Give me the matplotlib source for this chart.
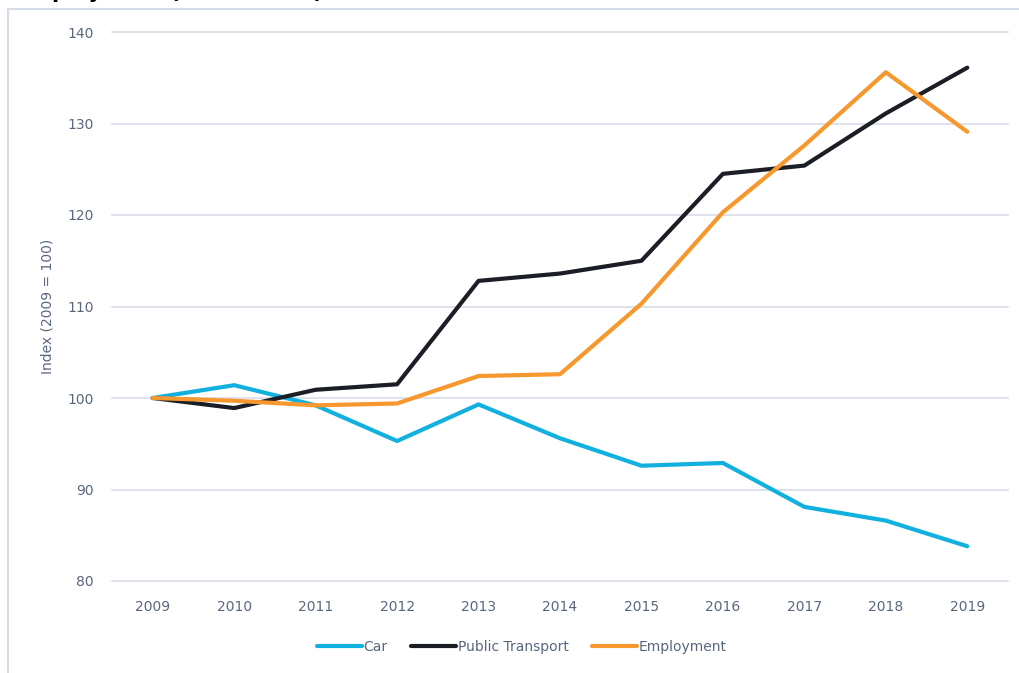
import matplotlib.pyplot as plt
from matplotlib.patches import Rectangle

# index values (2009 = 100)
years = [2009, 2010, 2011, 2012, 2013, 2014, 2015, 2016, 2017, 2018, 2019]
car = [100.0, 101.4, 99.2, 95.3, 99.3, 95.6, 92.6, 92.9, 88.1, 86.6, 83.8]
public_transport = [100.0, 98.9, 100.9, 101.5, 112.8, 113.6, 115.0, 124.5, 125.4, 131.1, 136.1]
employment = [100.0, 99.7, 99.2, 99.4, 102.4, 102.6, 110.3, 120.3, 127.6, 135.6, 129.1]
y_ticks = [80, 90, 100, 110, 120, 130, 140]

text_col = '#59677e'
grid_col = '#d9dde6'
border_col = '#d6dce5'

fig = plt.figure(figsize=(10.19, 6.73), dpi=100)

# chart border (only top and left edge show in the crop)
fig.patches.append(Rectangle((8 / 1019, -0.1), 1.2, 1 - 9 / 673 + 0.1,
                             transform=fig.transFigure, fill=False,
                             edgecolor=border_col, linewidth=1.5))

# title, mostly cut off at the top
fig.text(16 / 1019, 1 + 2 / 673, 'Employment (2009 = 100)', fontsize=15,
         fontweight='bold', color='black', va='baseline', ha='left')

ax = fig.add_axes([112 / 1019, 1 - 581 / 673, (1008 - 112) / 1019, (581 - 32) / 673])
x = list(range(len(years)))
ax.plot(x, car, color='#12b0df', lw=3, label='Car', solid_capstyle='round')
ax.plot(x, public_transport, color='#1b1e25', lw=3, label='Public Transport', solid_capstyle='round')
ax.plot(x, employment, color='#f7982e', lw=3, label='Employment', solid_capstyle='round')

ax.set_xlim(-0.5, len(years) - 0.5)
ax.set_ylim(80, 140)
ax.set_yticks(y_ticks)
ax.set_xticks(x)
ax.set_xticklabels([str(y) for y in years])
ax.grid(axis='y', color=grid_col, lw=1.2)
for gl in ax.get_ygridlines():
    gl.set_clip_on(False)
ax.set_axisbelow(True)
for s in ax.spines.values():
    s.set_visible(False)
ax.tick_params(length=0, colors=text_col, labelsize=10)
ax.tick_params(axis='y', pad=13)
ax.tick_params(axis='x', pad=14)
ax.set_ylabel('Index (2009 = 100)', color=text_col, fontsize=10, labelpad=9)

fig.legend(loc='center', bbox_to_anchor=(522 / 1019, 1 - 647 / 673), ncol=3,
           frameon=False, fontsize=10, handlelength=3.2, handletextpad=0.15,
           columnspacing=1.7, labelcolor=text_col)

fig.savefig('out.png', dpi=100)
